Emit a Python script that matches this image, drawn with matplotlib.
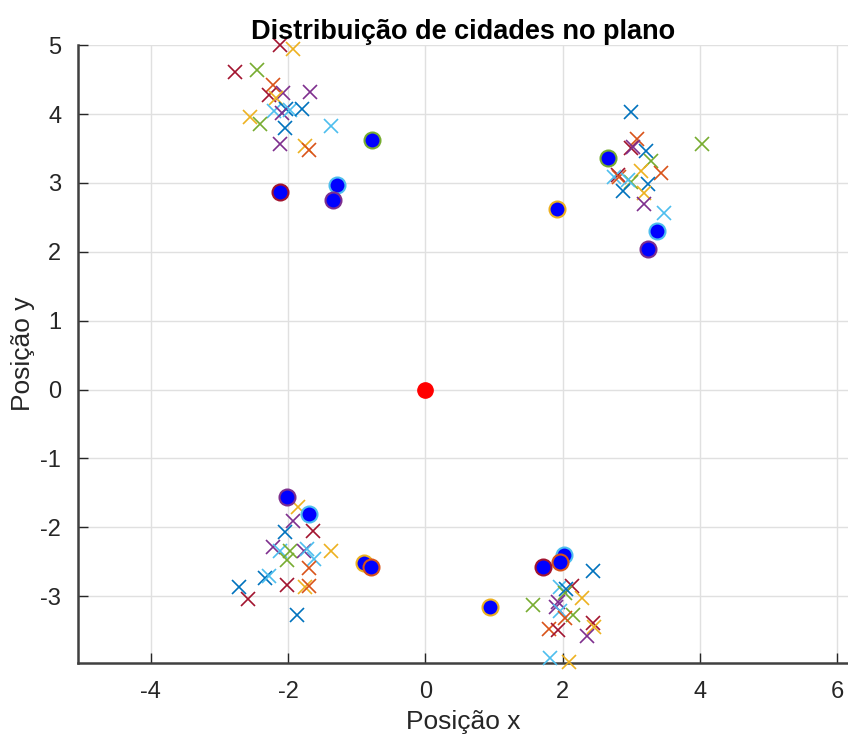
import matplotlib.pyplot as plt
import numpy as np

# MATLAB default colour order
colors = ['#0072BD', '#D95319', '#EDB120', '#7E2F8E', '#77AC30', '#4DBEEE', '#A2142F']

# cities (x markers): x, y, colour index
city_x = [-2.11, -1.93, -2.77, -2.45, -2.22, -2.28, -2.07, -2.17, -1.68, -2.20, -2.03,
          -2.09, -1.97, -1.80, -2.55, -2.41, -2.04, -1.37, -2.11, -1.75, -1.69,
          3.00, 4.03, 3.09, 3.00, 3.03, 3.22, 3.29, 3.14, 3.43, 2.81, 2.75, 2.83, 3.00,
          3.24, 2.96, 2.88, 3.19, 3.19, 3.48,
          -1.85, -1.93, -2.04, -1.64, -2.22, -2.11, -1.97, -1.76, -1.73, -1.37, -2.01,
          -1.62, -1.69, -2.33, -2.27, -2.01, -1.75, -1.69, -2.72, -2.58, -1.87,
          2.44, 1.96, 2.14, 2.03, 2.05, 2.28, 1.93, 1.57, 1.91, 1.97, 2.16, 2.03, 1.81,
          1.93, 2.45, 2.46, 2.35, 1.82, 2.09]
city_y = [5.00, 4.95, 4.61, 4.64, 4.42, 4.27, 4.31, 4.23, 4.32, 4.05, 4.08,
          4.01, 4.06, 4.07, 3.96, 3.85, 3.80, 3.83, 3.56, 3.54, 3.48,
          4.03, 3.57, 3.64, 3.50, 3.52, 3.46, 3.32, 3.18, 3.15, 3.11, 3.09, 3.09, 3.01,
          2.99, 3.04, 2.88, 2.85, 2.69, 2.57,
          -1.71, -1.91, -2.07, -2.05, -2.28, -2.35, -2.34, -2.34, -2.32, -2.35, -2.47,
          -2.46, -2.59, -2.74, -2.71, -2.83, -2.86, -2.85, -2.87, -3.04, -3.27,
          -2.63, -2.86, -2.85, -2.96, -2.90, -3.03, -3.08, -3.13, -3.15, -3.22, -3.27,
          -3.32, -3.47, -3.49, -3.39, -3.45, -3.58, -3.90, -3.96]
city_c = [6, 2, 6, 4, 1, 6, 3, 2, 3, 5, 0,
          3, 5, 0, 2, 4, 0, 5, 3, 2, 1,
          0, 4, 1, 6, 3, 0, 4, 2, 1, 6, 5, 1, 4,
          0, 5, 0, 2, 3, 5,
          2, 3, 0, 6, 3, 5, 4, 3, 5, 2, 4,
          5, 1, 0, 5, 6, 2, 1, 0, 6, 0,
          0, 5, 6, 4, 0, 2, 3, 4, 3, 5, 4, 1, 1,
          6, 6, 2, 3, 5, 2]

# facility positions (filled circles): x, y, edge colour index
fac_x = [-0.78, -2.11, -1.28, -1.35, 2.67, 3.38, 3.25, 1.92,
         -2.01, -1.70, -0.90, -0.79, 2.02, 1.96, 1.72, 0.94]
fac_y = [3.62, 2.87, 2.97, 2.75, 3.36, 2.30, 2.04, 2.62,
         -1.56, -1.81, -2.52, -2.58, -2.40, -2.50, -2.57, -3.15]
fac_c = [4, 6, 5, 3, 4, 5, 3, 2,
         3, 5, 2, 1, 5, 1, 6, 2]

origin = (0.0, 0.0)

plt.rcParams['font.family'] = ['Liberation Sans', 'DejaVu Sans']
plt.rcParams['axes.unicode_minus'] = False

fig = plt.figure(figsize=(8.48, 7.40), dpi=100)
ax = fig.add_axes([0.092, 0.104, 0.908, 0.835])

for x, y, c in zip(city_x, city_y, city_c):
    ax.plot(x, y, 'x', color=colors[c], markersize=10, markeredgewidth=1.2,
            clip_on=False, zorder=3)

for x, y, c in zip(fac_x, fac_y, fac_c):
    ax.plot(x, y, 'o', markerfacecolor='#0000FF', markeredgecolor=colors[c],
            markersize=11.5, markeredgewidth=1.5, clip_on=False, zorder=4)

ax.plot(origin[0], origin[1], 'o', color='#FF0000', markersize=11, zorder=5)

ax.set_xlim(-5.06, 6.16)
ax.set_ylim(-3.97, 5.0)
ax.set_xticks([-4, -2, 0, 2, 4, 6])
ax.set_yticks([-3, -2, -1, 0, 1, 2, 3, 4, 5])
ax.grid(True, color='#e0e0e0', linewidth=1.0)
ax.set_axisbelow(True)

for side in ['top', 'right']:
    ax.spines[side].set_visible(False)
for side in ['left', 'bottom']:
    ax.spines[side].set_color('#404040')
    ax.spines[side].set_linewidth(1.8)

ax.tick_params(direction='in', length=7, width=1, colors='#262626', labelsize=17)
ax.tick_params(axis='x', pad=13)
ax.tick_params(axis='y', pad=12)

ax.set_title('Distribuição de cidades no plano', fontsize=19.5, fontweight='bold', pad=3)
ax.set_xlabel('Posição x', fontsize=19, color='#262626', labelpad=5)
ax.set_ylabel('Posição y', fontsize=19, color='#262626', labelpad=4)

fig.savefig('out.png', dpi=100)
